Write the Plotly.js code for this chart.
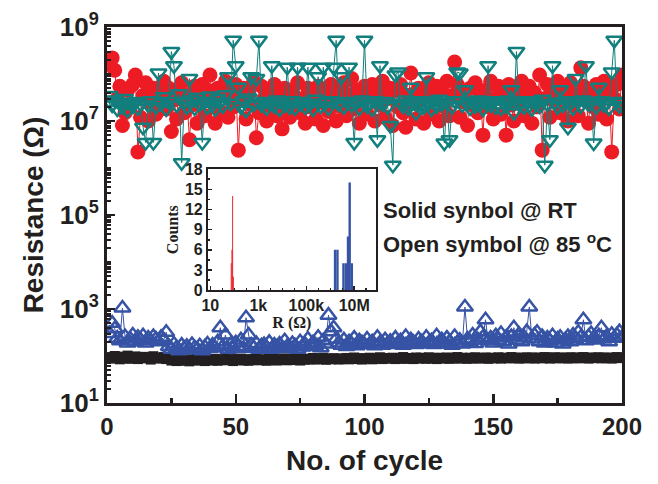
<!DOCTYPE html>
<html>
<head>
<meta charset="utf-8">
<script src="https://cdn.plot.ly/plotly-3.0.1.min.js"></script>
<style>html,body{margin:0;padding:0;background:#fff;}#chart{width:658px;height:484px;}</style>
</head>
<body>
<div id="chart"></div>
<script>
// Main chart: resistance vs cycle number (cycles 1..200)
const cycles = Array.from({length: 200}, (_, i) => i + 1);

// HRS @ RT (solid red circles)
const hrsRT = [
1.6e8,2.2e8,1.2e8,3.0e7,5.5e7,8.0e6,1.5e7,4.5e7,2.0e7,6.0e7,
9.5e7,2.2e6,1.2e7,3.5e7,6.5e7,1.0e7,2.5e7,5.0e7,1.4e7,4.0e7,
3.0e7,7.0e7,1.8e7,5.0e7,6.0e6,2.8e7,1.1e7,4.2e7,6.5e7,1.5e7,
3.5e7,4.0e6,2.2e7,5.5e7,9.0e6,3.0e7,6.0e7,1.3e7,4.5e7,9.5e7,
2.5e7,9.0e6,5.0e7,1.6e7,3.5e7,7.0e7,1.2e7,4.0e7,2.0e7,6.0e7,
2.4e6,3.0e7,5.0e7,1.1e7,4.0e7,2.2e7,7.0e7,4.4e6,1.5e7,5.5e7,
3.0e7,1.0e7,4.5e7,2.0e7,6.0e7,1.3e7,3.5e7,6.8e6,5.0e7,2.5e7,
1.2e7,4.0e7,2.2e7,6.5e7,1.5e7,3.0e7,9.0e6,5.0e7,2.0e7,3.8e7,
1.1e7,5.5e7,2.5e7,8.0e6,4.5e7,1.6e7,6.0e7,2.8e7,1.0e7,4.0e7,
2.0e7,6.5e7,1.3e7,3.5e7,8.0e7,1.8e7,4.5e7,9.0e6,3.0e7,5.5e7,
1.4e7,3.5e7,6.0e7,1.0e7,4.0e7,2.2e7,7.0e7,1.2e7,3.0e7,5.0e7,
8.0e6,4.5e7,2.0e7,6.0e7,1.5e7,7.4e6,3.5e7,1.05e8,2.5e7,1.1e7,
5.0e7,2.8e7,9.0e6,4.0e7,6.5e7,1.4e7,3.0e7,5.5e7,1.0e7,4.5e7,
2.0e7,7.0e7,1.3e7,3.5e7,1.8e8,6.0e7,1.2e7,4.0e7,2.5e7,8.0e6,
5.0e7,2.2e7,6.5e7,1.5e7,3.5e7,5.0e6,4.5e7,2.0e7,7.0e7,1.1e7,
3.0e7,5.5e7,1.4e7,4.0e7,5.0e6,6.0e7,2.2e7,1.0e7,4.5e7,2.8e7,
7.0e7,1.3e7,3.5e7,5.5e7,9.0e6,4.0e7,2.0e7,9.5e7,2.4e6,3.0e7,
6.0e7,1.2e7,4.5e7,2.5e7,7.0e7,1.5e7,3.5e7,5.0e7,1.0e7,6.5e7,
2.2e7,4.0e7,1.3e7,1.35e8,5.5e7,2.8e7,9.0e6,4.5e7,2.0e7,6.0e7,
1.4e7,3.5e7,7.0e7,1.1e7,5.0e7,2.2e6,3.0e7,6.0e7,1.8e7,9.5e7];

// HRS @ 85 C (open teal down-triangles)
const hrs85 = [
3.5e7,2.2e7,2.8e7,1.8e7,2.5e7,2.0e7,3.0e7,1.7e7,2.4e7,2.1e7,
2.6e7,1.9e7,2.3e7,7.4e6,3.5e6,2.2e7,2.7e7,3.5e6,2.0e7,1.05e8,
2.4e7,3.3e7,1.8e7,2.6e7,3.0e8,1.5e8,2.2e7,3.8e7,1.3e6,2.5e7,
2.0e7,8.0e7,2.8e7,1.9e7,3.2e7,2.3e7,3.5e6,2.6e7,2.0e7,3.4e7,
2.2e7,1.8e7,3.0e7,2.5e7,2.1e7,3.6e7,8.7e7,2.4e7,5.2e8,1.5e8,
5.2e7,2.0e7,2.7e7,1.7e7,3.1e7,8.7e7,2.3e7,8.0e7,5.2e8,2.2e7,
2.6e7,1.9e7,2.4e7,1.5e8,2.1e7,2.8e7,1.8e7,2.5e7,2.2e7,1.4e8,
2.0e7,2.7e7,1.9e7,1.4e8,2.3e7,2.6e7,2.0e7,1.4e8,2.4e7,1.8e7,
2.9e7,8.7e7,2.1e7,1.4e8,2.5e7,1.9e7,2.7e7,1.4e8,5.2e8,2.3e7,
8.7e7,2.0e7,2.6e7,1.4e8,2.2e7,3.5e6,2.5e7,1.9e7,2.8e7,5.2e8,
2.1e7,2.4e7,1.8e7,2.7e7,4.0e6,1.5e8,2.3e7,2.6e7,2.0e7,8.0e6,
1.15e6,9.5e7,1.1e8,2.4e7,2.1e7,2.8e7,1.9e7,5.2e7,2.5e7,1.5e7,
2.2e7,2.7e7,2.0e7,8.7e7,2.4e7,1.8e7,2.6e7,2.1e7,2.9e7,2.3e7,
3.4e6,2.5e7,4.0e6,2.0e7,2.7e7,1.1e8,1.05e8,2.2e7,4.6e7,2.4e7,
1.9e7,2.6e7,2.1e7,2.8e7,2.3e7,1.8e7,2.5e7,1.5e8,2.2e7,2.7e7,
2.0e7,2.4e7,1.9e7,2.6e7,2.1e7,2.8e7,4.6e7,1.5e7,3.0e8,2.3e7,
2.5e7,2.0e7,2.7e7,2.2e7,1.8e7,2.6e7,2.4e7,2.1e7,2.9e7,1.15e6,
2.3e7,4.0e6,1.5e8,2.5e7,2.0e7,4.6e7,2.2e7,2.7e7,7.4e6,2.4e7,
1.9e7,8.0e7,2.6e7,2.1e7,2.8e7,1.5e8,2.3e7,2.5e7,3.4e6,2.0e7,
5.2e7,2.7e7,2.2e7,2.4e7,1.9e7,1.1e8,5.2e8,2.6e7,2.1e7,2.5e7];

// LRS @ 85 C (open blue up-triangles)
const lrs85 = [
300,500,380,240,210,1050,260,190,230,280,
200,250,220,270,190,240,210,260,230,200,
250,220,320,160,140,180,150,130,170,145,
160,135,175,150,140,165,130,155,180,145,
170,150,200,400,160,280,140,175,150,190,
160,220,145,650,280,170,150,185,140,165,
175,150,195,140,170,155,180,145,210,160,
150,185,165,140,200,155,175,230,160,190,
170,250,150,210,180,740,330,400,230,190,
170,220,160,200,180,240,165,210,190,175,
230,180,200,165,250,190,170,220,185,205,
175,240,190,210,170,260,185,220,195,175,
230,200,180,250,190,210,175,270,195,220,
180,240,200,170,260,190,215,180,1100,230,
200,280,185,220,330,250,590,210,240,190,
270,220,300,200,250,180,260,400,220,290,
200,250,330,1100,230,280,320,200,260,190,
240,210,270,190,230,250,180,220,260,200,
280,230,320,250,590,210,260,300,240,220,
270,400,230,260,200,290,240,280,330,250];

// LRS @ RT (solid black squares)
const lrsRT = [
95,88,100,92,85,97,90,102,87,93,
98,86,91,96,89,94,84,99,90,92,
88,95,86,91,80,84,78,82,86,79,
83,77,85,81,88,80,84,78,86,82,
80,87,79,84,82,89,81,85,78,86,
83,88,80,84,79,86,82,90,81,85,
84,79,87,82,88,80,85,83,89,81,
86,82,90,84,80,88,83,87,85,91,
84,89,86,92,83,88,85,90,87,84,
89,86,91,85,88,93,86,90,84,89,
88,92,85,90,87,94,86,91,89,88,
92,86,90,88,95,87,91,89,86,93,
88,92,90,87,94,89,91,86,92,90,
88,93,87,91,89,95,88,92,90,87,
92,89,94,88,91,90,93,87,92,89,
90,94,88,92,91,89,95,90,93,88,
91,89,94,90,92,88,93,91,89,95,
92,88,91,94,89,93,90,92,88,94,
90,93,89,92,95,91,88,93,90,92,
94,89,92,90,93,88,91,95,90,92];

// Main axis tick labels
const yTickVals = [1e1,1e3,1e5,1e7,1e9];
const yTickText = ['10<sup>1</sup>','10<sup>3</sup>','10<sup>5</sup>','10<sup>7</sup>','10<sup>9</sup>'];
const xTickVals = [0,50,100,150,200];

// Inset histogram: log10(R) bin centres and counts
const histLowLogR = [1.87,1.90,1.93,1.96];
const histLowCounts = [4,6,14,2];
const histHighLogR = [6.2,6.3,6.55,6.65,6.74,6.81,6.9];
const histHighCounts = [6,6,4,4,8,16,4];
const insetXTickVals = [1,3,5,7];
const insetXTickText = ['10','1k','100k','10M'];
const insetYTickVals = [0,3,6,9,12,15,18];

const dark = '#231F20';
const red = '#ED1C24';
const teal = '#117F7D';
const blue = '#3653A5';

const traces = [
  {x: cycles, y: lrsRT, type: 'scatter', mode: 'lines+markers',
   line: {color: dark, width: 1}, marker: {symbol: 'square', size: 10, color: dark}},
  {x: cycles, y: lrs85, type: 'scatter', mode: 'lines+markers',
   line: {color: blue, width: 1}, marker: {symbol: 'triangle-up-open', size: 14, color: blue, line: {width: 2.5, color: blue}}},
  {x: cycles, y: hrsRT, type: 'scatter', mode: 'lines+markers',
   line: {color: red, width: 1}, marker: {symbol: 'circle', size: 15, color: red}},
  {x: cycles, y: hrs85, type: 'scatter', mode: 'lines+markers',
   line: {color: teal, width: 1}, marker: {symbol: 'triangle-down-open', size: 14, color: teal, line: {width: 2.5, color: teal}}},
  {x: histLowLogR, y: histLowCounts, type: 'bar', xaxis: 'x2', yaxis: 'y2', width: 0.04,
   marker: {color: red, line: {width: 0}}},
  {x: histHighLogR, y: histHighCounts, type: 'bar', xaxis: 'x2', yaxis: 'y2', width: 0.1,
   marker: {color: blue, line: {width: 0}}}
];

const sans = 'Liberation Sans, Arial, sans-serif';
const tickFontX = {family: sans, size: 24, color: dark, weight: 'bold'};
const tickFontY = {family: sans, size: 26, color: dark, weight: 'bold'};
const titleFont = {family: sans, size: 28, color: dark, weight: 'bold'};
const insetFont = {family: sans, size: 16, color: dark, weight: 'bold'};
const serif = {family: 'Liberation Serif, Times New Roman, serif', size: 16, color: dark, weight: 'bold'};

const layout = {
  width: 658, height: 484,
  margin: {l: 107, r: 36, t: 27, b: 81},
  paper_bgcolor: '#fff', plot_bgcolor: '#fff',
  showlegend: false,
  barmode: 'overlay',
  xaxis: {
    range: [0, 200], tickmode: 'array', tickvals: xTickVals,
    ticks: 'inside', ticklen: 9, tickwidth: 2.5, tickcolor: dark,
    minor: {dtick: 25, ticks: 'inside', ticklen: 5, tickwidth: 2.5, tickcolor: dark, showgrid: false},
    showline: true, linewidth: 3, linecolor: dark, mirror: true,
    showgrid: false, zeroline: false, tickfont: tickFontX,
    title: {text: 'No. of cycle', font: titleFont, standoff: 12}
  },
  yaxis: {
    type: 'log', range: [1, 9], tickmode: 'array', tickvals: yTickVals, ticktext: yTickText,
    ticks: 'inside', ticklen: 8, tickwidth: 2.5, tickcolor: dark,
    minor: {dtick: 'D1', ticks: 'inside', ticklen: 4, tickwidth: 2, tickcolor: dark, showgrid: false},
    showline: true, linewidth: 3, linecolor: dark, mirror: true,
    showgrid: false, zeroline: false, tickfont: tickFontY,
    title: {text: 'Resistance (Ω)', font: titleFont, standoff: 8}
  },
  xaxis2: {
    domain: [0.196, 0.522], anchor: 'y2', range: [0.9, 7.9],
    tickmode: 'array', tickvals: insetXTickVals, ticktext: insetXTickText,
    ticks: 'inside', ticklen: 4, tickwidth: 1.5, tickcolor: dark,
    minor: {dtick: 0.5, ticks: 'inside', ticklen: 2, tickwidth: 1.5, tickcolor: dark},
    showline: true, linewidth: 2, linecolor: dark, mirror: true,
    showgrid: false, zeroline: false, tickfont: insetFont,
    title: {text: 'R (Ω)', font: serif, standoff: 0}
  },
  yaxis2: {
    domain: [0.30, 0.622], anchor: 'x2', range: [0, 18],
    tickmode: 'array', tickvals: insetYTickVals,
    ticks: 'inside', ticklen: 4, tickwidth: 1.5, tickcolor: dark,
    minor: {dtick: 1.5, ticks: 'inside', ticklen: 2, tickwidth: 1.5, tickcolor: dark},
    showline: true, linewidth: 2, linecolor: dark, mirror: true,
    showgrid: false, zeroline: false, tickfont: insetFont,
    title: {text: 'Counts', font: serif, standoff: 2}
  },
  annotations: [
    {xref: 'paper', yref: 'paper', x: 0.532, y: 0.513, xanchor: 'left', yanchor: 'middle',
     text: 'Solid synbol @ RT', showarrow: false,
     font: {family: sans, size: 22, color: dark, weight: 'bold'}},
    {xref: 'paper', yref: 'paper', x: 0.532, y: 0.4255, xanchor: 'left', yanchor: 'middle',
     text: 'Open symbol @ 85 <sup>o</sup>C', showarrow: false,
     font: {family: sans, size: 22, color: dark, weight: 'bold'}}
  ]
};

Plotly.newPlot('chart', traces, layout, {displayModeBar: false, staticPlot: true});
</script>
</body>
</html>
